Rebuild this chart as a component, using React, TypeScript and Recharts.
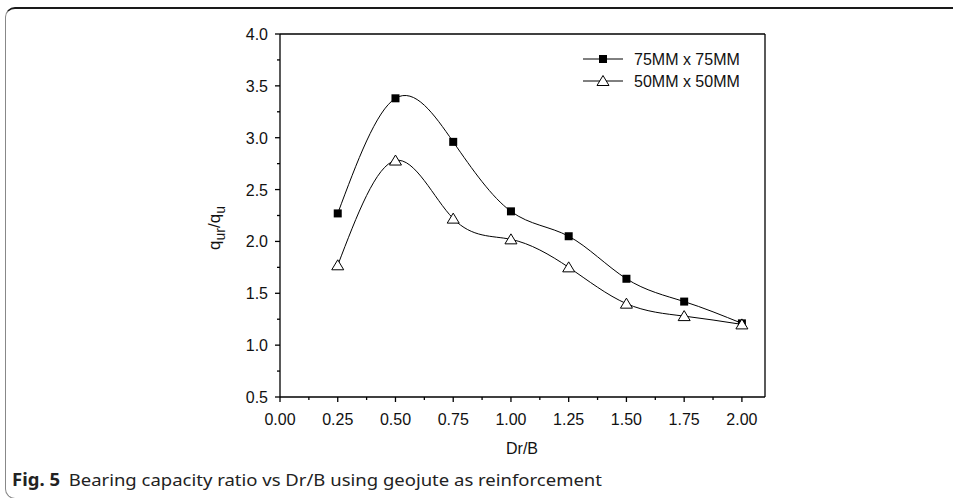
import { Line, LineChart, ReferenceLine, XAxis, YAxis } from 'recharts'

const drB = [0.25, 0.5, 0.75, 1.0, 1.25, 1.5, 1.75, 2.0]
const mesh75 = [2.27, 3.38, 2.96, 2.29, 2.05, 1.64, 1.42, 1.21]
const mesh50 = [1.77, 2.78, 2.22, 2.02, 1.75, 1.4, 1.28, 1.2]
const seriesNames = ['75MM x 75MM', '50MM x 50MM']
const xTicks = [0, 0.125, 0.25, 0.375, 0.5, 0.625, 0.75, 0.875, 1, 1.125, 1.25, 1.375, 1.5, 1.625, 1.75, 1.875, 2]
const yTicks = [0.5, 0.75, 1, 1.25, 1.5, 1.75, 2, 2.25, 2.5, 2.75, 3, 3.25, 3.5, 3.75, 4]

const data = drB.map((x, i) => ({ x, a: mesh75[i], b: mesh50[i] }))

const FONT = '"Liberation Sans", Arial, sans-serif'

const isStep = (v: number, step: number) => Math.abs(v / step - Math.round(v / step)) < 1e-6

function YTick(props: any) {
  const { x, y, payload } = props
  const major = isStep(payload.value, 0.5)
  return (
    <g>
      <line x1={x} x2={x - (major ? 5 : 3)} y1={y} y2={y} stroke="#000" strokeWidth={1.3} />
      {major && (
        <text x={x - 12} y={y + 6} textAnchor="end" fontSize={16} fontFamily={FONT} fill="#111">
          {payload.value.toFixed(1)}
        </text>
      )}
    </g>
  )
}

function XTick(props: any) {
  const { x, y, payload } = props
  const major = isStep(payload.value, 0.25)
  return (
    <g>
      <line x1={x} x2={x} y1={y} y2={y + (major ? 5 : 3)} stroke="#000" strokeWidth={1.3} />
      {major && (
        <text x={x} y={y + 28} textAnchor="middle" fontSize={16} fontFamily={FONT} fill="#111">
          {payload.value.toFixed(2)}
        </text>
      )}
    </g>
  )
}

function Square(props: any) {
  const { cx, cy } = props
  if (cx == null || cy == null) return null
  return <rect x={cx - 4} y={cy - 4} width={8} height={8} fill="#000" />
}

function Triangle(props: any) {
  const { cx, cy } = props
  if (cx == null || cy == null) return null
  return (
    <polygon
      points={`${cx},${cy - 5.5} ${cx - 6},${cy + 4.5} ${cx + 6},${cy + 4.5}`}
      fill="#fff"
      stroke="#000"
      strokeWidth={1}
    />
  )
}

function LegendBox() {
  return (
    <svg
      width={170}
      height={50}
      style={{ position: 'absolute', left: 583, top: 48, overflow: 'visible' }}
    >
      {seriesNames.map((name, i) => {
        const cy = 11 + i * 22
        return (
          <g key={name}>
            <line x1={0} x2={40} y1={cy} y2={cy} stroke="#000" strokeWidth={1} />
            {i === 0 ? <Square cx={20} cy={cy} /> : <Triangle cx={20} cy={cy} />}
            <text x={51} y={cy + 6} fontSize={16} fontFamily={FONT} fill="#111">
              {name}
            </text>
          </g>
        )
      })}
    </svg>
  )
}

export default function App() {
  return (
    <div
      style={{
        position: 'absolute',
        left: 0,
        top: 0,
        width: 953,
        height: 498,
        overflow: 'hidden',
        background: '#fff',
      }}
    >
      <div
        style={{
          position: 'absolute',
          left: 5,
          top: 7,
          width: 1000,
          height: 489,
          borderTop: '2px solid #1a1a1a',
          borderLeft: '1.5px solid #888',
          borderBottom: '1.5px solid #888',
          borderRadius: 10,
        }}
      />
      <div style={{ position: 'absolute', left: 0, top: 0 }}>
        <LineChart
          width={953}
          height={498}
          data={data}
          margin={{ top: 34, right: 188, bottom: 71, left: 220 }}
        >
          <XAxis
            dataKey="x"
            type="number"
            domain={[0, 2.1]}
            ticks={xTicks}
            interval={0}
            height={30}
            tickSize={0}
            tickMargin={0}
            tickLine={false}
            tick={<XTick />}
            axisLine={{ stroke: '#000', strokeWidth: 1.3 }}
          />
          <YAxis
            type="number"
            domain={[0.5, 4]}
            ticks={yTicks}
            interval={0}
            width={60}
            tickSize={0}
            tickMargin={0}
            tickLine={false}
            tick={<YTick />}
            axisLine={{ stroke: '#000', strokeWidth: 1.3 }}
          />
          <ReferenceLine y={4} stroke="#000" strokeWidth={1.3} />
          <ReferenceLine x={2.1} stroke="#000" strokeWidth={1.3} />
          <Line
            type="natural"
            dataKey="a"
            name={seriesNames[0]}
            stroke="#000"
            strokeWidth={1}
            dot={<Square />}
            activeDot={false}
            isAnimationActive={false}
          />
          <Line
            type="natural"
            dataKey="b"
            name={seriesNames[1]}
            stroke="#000"
            strokeWidth={1}
            dot={<Triangle />}
            activeDot={false}
            isAnimationActive={false}
          />
        </LineChart>
      </div>
      <LegendBox />
      <svg
        width={953}
        height={498}
        style={{ position: 'absolute', left: 0, top: 0, pointerEvents: 'none' }}
      >
        <text
          x={220}
          y={228}
          transform="rotate(-90, 220, 228)"
          textAnchor="middle"
          fontSize={17}
          fontFamily={FONT}
          fill="#111"
        >
          q<tspan fontSize={14} dy={5}>ur</tspan>
          <tspan dy={-5}>/q</tspan>
          <tspan fontSize={14} dy={5}>u</tspan>
        </text>
        <text x={522} y={454} textAnchor="middle" fontSize={16} fontFamily={FONT} fill="#111">
          Dr/B
        </text>
        <text
          x={12}
          y={486}
          fontSize={17}
          fontFamily='"Noto Sans", "Open Sans", sans-serif'
          fill="#222"
          textLength={590}
          lengthAdjust="spacingAndGlyphs"
        >
          <tspan fontWeight="bold">Fig. 5</tspan>
          <tspan dx={8}>Bearing capacity ratio vs Dr/B using geojute as reinforcement</tspan>
        </text>
      </svg>
    </div>
  )
}
